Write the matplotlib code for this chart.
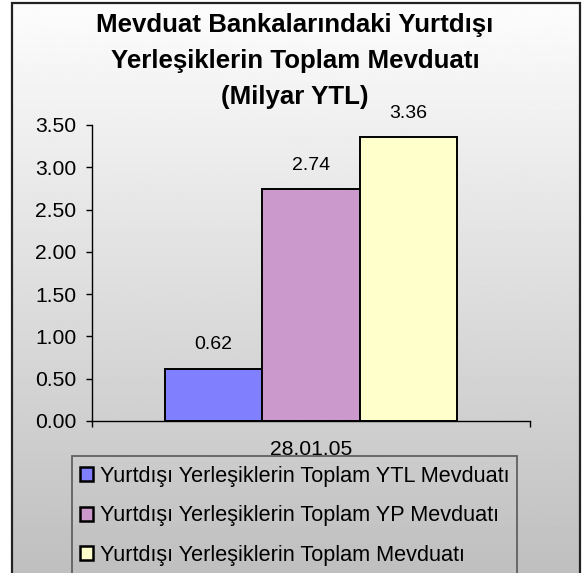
import numpy as np
import matplotlib.pyplot as plt
from matplotlib.patches import Rectangle

plt.rcParams['font.family'] = ['Liberation Sans', 'DejaVu Sans']

# Data
category = "28.01.05"
series_names = [
    "Yurtdışı Yerleşiklerin Toplam YTL Mevduatı",
    "Yurtdışı Yerleşiklerin Toplam YP Mevduatı",
    "Yurtdışı Yerleşiklerin Toplam Mevduatı",
]
values = [0.62, 2.74, 3.36]
colors = ["#8080FF", "#CC99CC", "#FFFFCC"]
title_lines = ["Mevduat Bankalarındaki Yurtdışı",
               "Yerleşiklerin Toplam Mevduatı",
               "(Milyar YTL)"]
yticks = [0.0, 0.5, 1.0, 1.5, 2.0, 2.5, 3.0, 3.5]

W, H = 583, 573
fig = plt.figure(figsize=(W / 100, H / 100), dpi=100)
fig.patch.set_facecolor("white")

# gradient background inside the chart border
bg = fig.add_axes([12 / W, 0, (580 - 12) / W, 1 - 3 / H], zorder=0)
grad = np.linspace(0.99, 0.75, 256).reshape(-1, 1)
bg.imshow(grad, cmap="gray", vmin=0, vmax=1, aspect="auto", extent=[0, 1, 0, 1])
bg.set_axis_off()
fig.add_artist(Rectangle((12 / W, -0.01), (580 - 12) / W, 1 - 3 / H + 0.01,
                         transform=fig.transFigure, fill=False,
                         edgecolor="#222222", linewidth=1.6, zorder=10))

# title
for i, line in enumerate(title_lines):
    fig.text(295 / W, 1 - (25 + 36 * i) / H, line, ha="center", va="center",
             fontsize=18.6, fontweight="bold", color="black", zorder=5)

# plot area
ax = fig.add_axes([92 / W, (H - 421) / H, (530 - 92) / W, (421 - 125) / H], zorder=2)
ax.patch.set_visible(False)
bw = 97.3 / 438
x0 = 0.5 - 1.5 * bw
for i, (v, c, name) in enumerate(zip(values, colors, series_names)):
    xc = x0 + bw * (i + 0.5)
    ax.bar(xc, v, width=bw, color=c, edgecolor="black", linewidth=1.4, label=name)
    ax.annotate(f"{v:.2f}", (xc, v), xytext=(0, 17), textcoords="offset points",
                ha="center", va="center", fontsize=14)

ax.set_xlim(0, 1)
ax.set_ylim(0, 3.5)
ax.set_yticks(yticks)
ax.set_yticklabels([f"{t:.2f}" for t in yticks], fontsize=15.2)
ax.set_xticks([0.5])
ax.set_xticklabels([category], fontsize=15.2)
ax.tick_params(axis="x", length=0, pad=13.5)
ax.set_xticks([0, 1], minor=True)
ax.tick_params(axis="x", which="minor", length=4.3, width=1, direction="out")
ax.tick_params(axis="y", length=4.3, width=1, direction="out", pad=7)
for s in ["top", "right"]:
    ax.spines[s].set_visible(False)
for s in ["left", "bottom"]:
    ax.spines[s].set_linewidth(1)

# legend box (runs past the bottom edge, as in the original)
fig.add_artist(Rectangle((72 / W, -0.05), (517 - 72) / W, (H - 456) / H + 0.05,
                         transform=fig.transFigure, facecolor="none",
                         edgecolor="#606060", linewidth=1.3, zorder=6))
leg = fig.legend(loc="upper left", bbox_to_anchor=(80 / W, 1 - 466 / H),
                 fontsize=15.6, frameon=False,
                 handlelength=0.6, handleheight=0.6,
                 handletextpad=0.3, labelspacing=0.85, borderpad=0,
                 borderaxespad=0)
leg.set_zorder(7)
for h in leg.legend_handles:
    h.set_linewidth(1.8)

fig.savefig("out.png", dpi=100)
